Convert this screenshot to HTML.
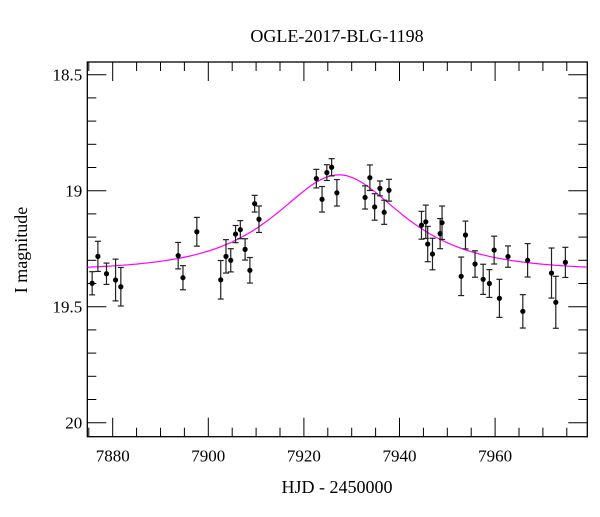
<!DOCTYPE html>
<html><head><meta charset="utf-8"><style>
body{margin:0;background:#fff}
svg text{font-family:"Liberation Serif",serif;fill:#000}
</style></head><body>
<svg width="600" height="512" viewBox="0 0 600 512">
<rect width="600" height="512" fill="#fff"/>
<text x="337" y="42" font-size="18" text-anchor="middle">OGLE-2017-BLG-1198</text>
<g id="axes"></g>
<g id="model"></g>
<g id="points"></g>
<text x="337" y="493" font-size="18" text-anchor="middle">HJD - 2450000</text>
<text transform="translate(27,250) rotate(-90)" font-size="18" text-anchor="middle">I magnitude</text>
</svg>
<script>
const days=[7875.7,7876.9,7878.7,7880.6,7881.7,7893.7,7894.7,7897.6,7902.6,7903.7,7904.7,7905.7,7906.7,7907.7,7908.7,7909.7,7910.6,7922.6,7923.8,7924.8,7925.8,7926.9,7932.8,7933.8,7934.8,7935.9,7936.8,7937.8,7944.6,7945.5,7945.9,7946.9,7948.5,7948.9,7952.9,7953.8,7955.8,7957.5,7958.8,7959.8,7960.9,7962.7,7965.8,7966.8,7971.8,7972.7,7974.7];
const mags=[19.399,19.283,19.358,19.385,19.414,19.28,19.375,19.177,19.384,19.283,19.30,19.187,19.168,19.253,19.343,19.056,19.123,18.948,19.037,18.922,18.899,19.009,19.029,18.944,19.07,18.99,19.093,18.998,19.149,19.134,19.23,19.273,19.185,19.138,19.369,19.191,19.316,19.382,19.40,19.256,19.464,19.284,19.52,19.30,19.355,19.481,19.309];
const errs=[0.05,0.065,0.046,0.09,0.083,0.057,0.052,0.062,0.083,0.072,0.05,0.037,0.039,0.046,0.055,0.036,0.057,0.04,0.055,0.034,0.037,0.057,0.05,0.055,0.057,0.032,0.052,0.047,0.06,0.072,0.076,0.068,0.065,0.072,0.083,0.06,0.057,0.065,0.06,0.06,0.082,0.046,0.072,0.072,0.108,0.112,0.065];
const xTicks=[7880,7900,7920,7940,7960];
const yTicks=[18.5,19,19.5,20];
const yTickLabels=["18.5","19","19.5","20"];
const modelT0=7927.3, modelU0=0.86, modelTE=17.2, modelBase=19.345;

const L=87.3,R=587.3,T=62,B=436.7;
const X=d=>112.7+(d-7880)*4.78;
const Y=m=>190.7+(m-19)*232;
const NS="http://www.w3.org/2000/svg";
function mk(tag,attrs,parent){const e=document.createElementNS(NS,tag);for(const k in attrs)e.setAttribute(k,attrs[k]);parent.appendChild(e);return e;}
const ax=document.getElementById('axes');
const frame=mk('rect',{x:L,y:T,width:R-L,height:B-T,fill:'none',stroke:'#000','stroke-width':1.3},ax);


for(let d=7875;d<=7979;d+=5){
  const x=X(d);const maj=d%20===0;const len=maj?19:9;
  const t1=mk('line',{x1:x,x2:x,y1:B,y2:B-len,stroke:'#000','stroke-width':1},ax);
  
  
  const t2=mk('line',{x1:x,x2:x,y1:T,y2:T+len,stroke:'#000','stroke-width':1},ax);
  
  
}
xTicks.forEach(d=>{const t=mk('text',{x:X(d),y:B+25,'font-size':17,'text-anchor':'middle'},ax);t.textContent=d;
  
  });
for(let i=0;i<=16;i++){
  const m=18.5+i*0.1;if(m>20.06)break;const y=Y(m);const maj=i%5===0;const len=maj?19:9;
  const t1=mk('line',{x1:L,x2:L+len,y1:y,y2:y,stroke:'#000','stroke-width':1},ax);
  
  
  const t2=mk('line',{x1:R,x2:R-len,y1:y,y2:y,stroke:'#000','stroke-width':1},ax);
  
  
}
yTicks.forEach((m,i)=>{const t=mk('text',{x:L-5,y:Y(m)+6,'font-size':17,'text-anchor':'end'},ax);t.textContent=yTickLabels[i];
  
  });
let pts=[];
for(let d=7874.7;d<=7979.3;d+=0.5){const u=Math.sqrt(modelU0*modelU0+((d-modelT0)/modelTE)**2);
  const A=(u*u+2)/(u*Math.sqrt(u*u+4));pts.push(X(d).toFixed(1)+','+Y(modelBase-2.5*Math.log10(A)).toFixed(1));}
const pl=mk('polyline',{points:pts.join(' '),fill:'none',stroke:'#ff00ff','stroke-width':1.2},document.getElementById('model'));


const pg=document.getElementById('points');
days.forEach((d,i)=>{
  const x=X(d),y=Y(mags[i]),y1=Y(mags[i]-errs[i]),y2=Y(mags[i]+errs[i]);
  const g=mk('g',{stroke:'#222','stroke-width':1.2},pg);
  
  
  mk('line',{x1:x,x2:x,y1:y1,y2:y2},g);
  mk('line',{x1:x-3,x2:x+3,y1:y1,y2:y1},g);
  mk('line',{x1:x-3,x2:x+3,y1:y2,y2:y2},g);
  mk('circle',{cx:x,cy:y,r:2.6,fill:'#000',stroke:'none'},g);
});
</script>
</body></html>
